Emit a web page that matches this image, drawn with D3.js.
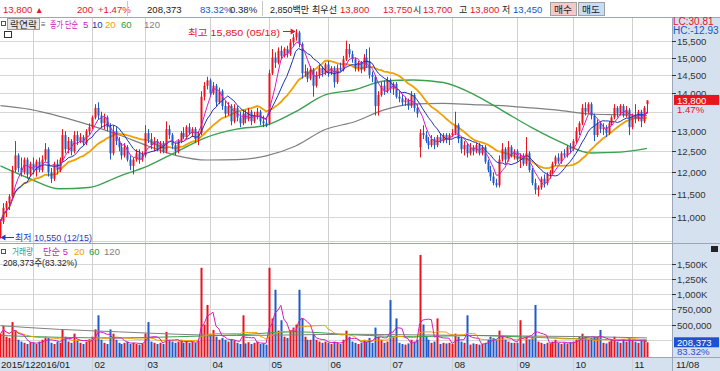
<!DOCTYPE html>
<html><head><meta charset="utf-8">
<script src="https://cdn.jsdelivr.net/npm/d3@7"></script>
<style>body{margin:0;background:#fff;}svg{display:block;}</style>
</head><body><svg id="c" width="720" height="371"></svg>
<script>
const opens=[10600,10900,11200,11300,11450,12050,12400,12100,12000,12300,11950,
12200,12050,12250,12050,12300,12550,12000,11850,12200,12050,12300,12900,12550,12750,12500,12900,12750,12850,12700,13000,
13100,13350,13600,13400,13200,13350,13100,12450,13000,12750,12600,12400,12600,12300,12150,12300,12450,12300,
12400,12950,12800,12650,12750,12550,12700,12500,13050,12900,12650,12500,12750,12950,12850,13100,12950,13050,12800,12950,13900,14200,
14350,14000,14200,13750,14050,13650,13450,13650,13250,13600,13350,13200,13450,13300,13500,13250,13400,13500,13250,13200,
13200,14550,15000,14850,15200,15050,15250,15100,15450,15600,15750,15400,14550,14600,14400,14650,14200,14500,14700,14550,
14800,14550,14700,14300,14700,14650,14950,15250,15100,14950,14700,14850,14650,15000,14900,14500,14450,13650,13950,14200,14050,
14350,14100,14250,13900,13850,13750,13800,13650,13950,13600,12600,12950,12900,12750,12650,12800,12650,12850,12750,12900,12800,
12900,12950,13150,12800,12550,12650,12450,12600,12500,12650,12450,12600,12250,12050,11900,11750,11700,12300,12550,12300,12600,12400,
12500,12300,12400,12200,12450,12050,11750,11600,11650,11850,11750,11950,12000,12200,12350,12250,12450,12400,12600,
12550,12750,13000,13200,13600,13500,13700,13400,12900,13200,13050,13100,12950,13200,13350,13600,13450,13650,13400,13550,
13100,13400,13300,13500,13250,13700];
const highs=[10950,11300,11350,11500,12150,12750,12450,12350,12350,12350,12250,
12350,12300,12350,12400,12700,12600,12100,12250,12300,12350,13050,13000,12850,12800,13000,13000,12950,12900,13050,13200,
13400,13700,13750,13500,13450,13400,13200,13150,13100,12850,12700,12700,12650,12400,12350,12550,12550,12500,
13150,13050,12950,12850,12800,12750,12750,13250,13150,12950,12700,12800,13000,13100,13150,13200,13100,13100,13000,14050,14300,14450,
14400,14300,14250,14150,14100,13800,13750,13700,13700,13650,13500,13550,13550,13600,13550,13500,13600,13550,13400,13350,
14650,15250,15150,15300,15350,15300,15350,15550,15700,15850,15800,15450,14800,14700,14750,14700,14600,14800,14750,14850,
14900,14750,14750,14800,14850,15050,15500,15400,15200,15000,14900,14900,15100,15250,15300,14600,14500,14050,14300,14350,14450,
14400,14300,14300,14050,13950,13900,13850,14050,14000,13700,13050,13150,13000,12850,12900,12850,12900,12950,12950,12950,12950,
13050,13500,13200,12850,12750,12700,12700,12650,12700,12700,12650,12650,12300,12150,12000,11850,12400,12700,12600,12750,12650,12550,
12550,12450,12450,12850,12500,12100,11850,11700,11900,11950,12000,12050,12250,12400,12450,12500,12550,12650,12700,
12800,13100,13250,13700,13750,13750,13750,13450,13300,13250,13200,13150,13250,13400,13700,13650,13700,13700,13650,13600,
13450,13700,13550,13550,13650,13800];
const lows=[10550,10850,11000,11150,11400,12000,12000,11900,11950,11850,11900,
11950,11900,12000,12000,12250,11900,11750,11800,11950,12000,12250,12450,12450,12400,12450,12650,12700,12650,12650,12900,
13050,13300,13300,13100,13050,13000,12300,12400,12650,12500,12300,12350,12250,12050,11950,12250,12200,12250,
12350,12700,12550,12500,12500,12450,12450,12450,12800,12550,12400,12450,12700,12800,12800,12900,12850,12700,12650,12900,13800,14100,
13900,13950,13650,13700,13550,13350,13400,13150,13200,13250,13100,13150,13200,13250,13150,13200,13300,13150,13100,13100,
13150,14500,14700,14800,14950,15000,15000,15050,15350,15500,15300,14400,14450,14300,14350,13900,14150,14400,14450,14500,
14450,14500,14150,14250,14600,14600,14900,15000,14850,14600,14600,14550,14600,14700,14400,14300,13400,13400,13900,13950,14000,
14000,13950,13850,13750,13650,13650,13550,13600,13500,13350,12350,12800,12700,12550,12600,12550,12600,12700,12700,12700,12650,
12850,12900,12700,12450,12400,12350,12400,12400,12450,12400,12400,12200,12000,11800,11700,11650,11650,12250,12200,12250,12350,12300,
12250,12100,12150,12150,12000,11700,11500,11450,11600,11650,11700,11850,11950,12150,12200,12200,12350,12350,12450,
12500,12700,12900,13150,13400,13450,13300,12750,12850,12950,12900,12850,12900,13150,13300,13350,13400,13350,13350,12900,
13050,13200,13250,13100,13200,13450];
const closes=[10900,11200,11300,11450,12050,12400,12100,12000,12300,11950,12200,
12050,12250,12050,12300,12550,12000,11850,12200,12050,12300,12900,12550,12750,12500,12900,12750,12850,12700,13000,13100,
13350,13600,13400,13200,13350,13100,12450,13000,12750,12600,12400,12600,12300,12150,12300,12450,12300,12400,
12950,12800,12650,12750,12550,12700,12500,13050,12900,12650,12500,12750,12950,12850,13100,12950,13050,12800,12950,13900,14200,14350,
14000,14200,13750,14050,13650,13450,13650,13250,13600,13350,13200,13450,13300,13500,13250,13400,13500,13250,13200,13150,
14550,15000,14850,15200,15050,15250,15100,15450,15600,15750,15400,14550,14600,14400,14650,14200,14500,14700,14550,14800,
14550,14700,14300,14700,14650,14950,15250,15100,14950,14700,14850,14650,15000,14800,14500,14450,13650,13950,14200,14050,14350,
14100,14250,13900,13850,13750,13800,13650,13950,13600,13450,12950,12900,12750,12650,12800,12650,12850,12750,12900,12800,12900,
12950,13150,12800,12550,12650,12450,12600,12500,12650,12450,12600,12250,12050,11900,11750,11700,12300,12550,12300,12600,12400,12500,
12300,12400,12200,12450,12050,11750,11600,11650,11850,11750,11950,12000,12200,12350,12250,12450,12400,12600,12550,
12750,13000,13200,13600,13500,13700,13400,12900,13200,13050,13100,12950,13200,13350,13600,13450,13650,13400,13550,13100,
13400,13300,13500,13250,13600,13800];
const volumes=[350000,480000,300000,280000,540000,410000,250000,220000,200000,180000,210000,
200000,180000,220000,250000,300000,280000,200000,180000,220000,200000,420000,300000,220000,200000,350000,250000,200000,180000,220000,260000,
300000,420000,650000,250000,200000,180000,420000,350000,250000,200000,180000,200000,220000,180000,200000,180000,170000,190000,
350000,540000,220000,200000,180000,200000,180000,380000,250000,220000,200000,220000,250000,200000,230000,200000,220000,200000,230000,1430000,500000,820000,
350000,410000,300000,250000,280000,250000,220000,260000,240000,200000,180000,650000,190000,210000,180000,200000,220000,180000,190000,170000,
1430000,600000,1070000,400000,570000,300000,280000,400000,450000,500000,1070000,600000,300000,250000,250000,350000,250000,220000,200000,220000,
200000,180000,220000,200000,180000,250000,400000,300000,220000,200000,180000,200000,250000,220000,280000,200000,450000,300000,250000,200000,220000,
900000,300000,600000,200000,180000,170000,190000,250000,220000,250000,1640000,500000,300000,250000,200000,220000,600000,180000,200000,190000,200000,
180000,350000,300000,220000,200000,650000,170000,190000,180000,170000,180000,200000,250000,300000,280000,250000,400000,300000,250000,220000,200000,200000,
200000,570000,190000,300000,250000,300000,820000,220000,200000,180000,200000,190000,220000,250000,200000,180000,200000,190000,210000,
220000,250000,300000,350000,300000,250000,280000,300000,300000,410000,200000,190000,220000,250000,300000,220000,200000,250000,220000,280000,
250000,220000,200000,230000,260000,208373];
// moving averages 60/120 at sample days
const maSampleIdx=[0,10,20,30,40,50,60,70,80,90,100,110,120,130,140,150,160,170,180,190,200,210,219];
const ma60Vals=[12150,11850,11620,11650,11900,12150,12500,12850,13050,13150,13500,13950,14090,14330,14360,14290,13980,13530,13090,12720,12460,12480,12570];
const ma120Vals=[13660,13560,13380,13160,12910,12630,12390,12290,12300,12390,12630,13040,13240,13550,13710,13720,13690,13660,13600,13530,13440,13420,13400];
const volMaIdx=[0,20,40,60,80,100,120,140,160,180,200,219];
const volMa60Vals=[320000,290000,280000,300000,330000,380000,330000,300000,320000,290000,260000,240000];
const volMa120Vals=[480000,420000,380000,340000,320000,330000,340000,330000,320000,310000,300000,280000];
const priceTicks=[11000,11500,12000,12500,13000,13500,14000,14500,15000,15500];
const priceGrid=[10500,11000,11500,12000,12500,13000,13500,14000,14500,15000,15500];
const volTicks=[500000,750000,1000000,1250000,1500000];
const volTickLabels=["500,000","750,000","1,000K","1,250K","1,500K"];
const monthStarts=[11,31,49,71,91,111,132,153,175,194,214];
const monthLabels=["2016/01","02","03","04","05","06","07","08","09","10","11"];

const ctx=document.createElement("canvas").getContext("2d");
function hasFont(f){ctx.font="20px monospace";const a=ctx.measureText("15,500abcWM").width;ctx.font=`20px '${f}', monospace`;return ctx.measureText("15,500abcWM").width!==a;}
const NARROW=hasFont("Liberation Sans Narrow");
const FF=(NARROW?"'Liberation Sans Narrow',":"")+"'Liberation Sans','Noto Sans CJK KR',sans-serif";
const FS=NARROW?11:9.6;

const RED="#E8141E",BLUE="#1E5AC8";
const svg=d3.select("#c").attr("font-family",FF);
const PR=672;
const x=d3.scaleBand().domain(d3.range(228)).range([-1,PR]);
const cx=i=>x(i)+x.bandwidth()/2;
const yP=d3.scaleLog().domain([11000,15500]).range([217,40.7]);
const yV=d3.scaleLinear().domain([0,1500000]).range([355,263.5]);
const fmt=d3.format(",");

svg.append("rect").attr("x",0).attr("y",0).attr("width",720).attr("height",371).attr("fill","#fff");
svg.append("rect").attr("x",PR).attr("y",18).attr("width",720-PR).attr("height",353).attr("fill","#D5E1EF");
svg.append("rect").attr("x",0).attr("y",357).attr("width",720).attr("height",14).attr("fill","#D5E1EF");

const g=svg.append("g");
priceGrid.forEach(t=>g.append("line").attr("x1",0).attr("x2",PR).attr("y1",Math.round(yP(t))+0.5).attr("y2",Math.round(yP(t))+0.5).attr("stroke","#D6D6D6"));
[250000,500000,750000,1000000,1250000,1500000].forEach(t=>g.append("line").attr("x1",0).attr("x2",PR).attr("y1",Math.round(yV(t))+0.5).attr("y2",Math.round(yV(t))+0.5).attr("stroke","#D6D6D6"));
monthStarts.forEach(i=>g.append("line").attr("x1",Math.round(cx(i))+0.5).attr("x2",Math.round(cx(i))+0.5).attr("y1",18).attr("y2",371).attr("stroke","#D0D0D0"));

svg.append("line").attr("x1",0).attr("x2",720).attr("y1",17.5).attr("y2",17.5).attr("stroke","#9AA7B8");
svg.append("line").attr("x1",0).attr("x2",720).attr("y1",243.5).attr("y2",243.5).attr("stroke","#9AA7B8");
svg.append("line").attr("x1",0).attr("x2",720).attr("y1",357.5).attr("y2",357.5).attr("stroke","#9AA7B8");
svg.append("line").attr("x1",PR+0.5).attr("x2",PR+0.5).attr("y1",18).attr("y2",371).attr("stroke","#9AA7B8");

svg.append("clipPath").attr("id","cp").append("rect").attr("x",0).attr("y",18).attr("width",PR).attr("height",225);
svg.append("clipPath").attr("id","cv").append("rect").attr("x",0).attr("y",244).attr("width",PR).attr("height",113);

const idx=d3.range(closes.length);
const sma=(arr,n)=>arr.map((_,i)=>d3.mean(arr.slice(Math.max(0,i-n+1),i+1)));

const pg=svg.append("g").attr("clip-path","url(#cp)");
const lineP=d3.line().x(d=>cx(d[0])).y(d=>yP(d[1]));
const lineS=d3.line().x(d=>cx(d[0])).y(d=>yP(d[1])).curve(d3.curveMonotoneX);
pg.append("path").attr("d",lineS(maSampleIdx.map((i,k)=>[i,ma120Vals[k]]))).attr("fill","none").attr("stroke","#808080").attr("stroke-width",1.2);
pg.append("path").attr("d",lineS(maSampleIdx.map((i,k)=>[i,ma60Vals[k]]))).attr("fill","none").attr("stroke","#3CA050").attr("stroke-width",1.4);
pg.append("path").attr("d",lineP(sma(closes,20).map((v,i)=>[i,v]))).attr("fill","none").attr("stroke","#F0A000").attr("stroke-width",1.8);

const cg=pg.append("g");
idx.forEach(i=>{
  const up=closes[i]>=opens[i];
  const col=up?RED:BLUE;
  const xc=Math.round(cx(i));
  cg.append("line").attr("x1",xc+0.5).attr("x2",xc+0.5).attr("y1",yP(highs[i])).attr("y2",yP(lows[i])).attr("stroke",col).attr("stroke-width",1);
  const y1=yP(Math.max(opens[i],closes[i])),y2=yP(Math.min(opens[i],closes[i]));
  cg.append("rect").attr("x",xc-0.5).attr("y",y1).attr("width",2).attr("height",Math.max(1,y2-y1)).attr("fill",col);
});
pg.append("path").attr("d",lineP(sma(closes,10).map((v,i)=>[i,v]))).attr("fill","none").attr("stroke","#1E32B4").attr("stroke-width",1);
pg.append("path").attr("d",lineP(sma(closes,5).map((v,i)=>[i,v]))).attr("fill","none").attr("stroke","#D21EBE").attr("stroke-width",1);

const vg=svg.append("g").attr("clip-path","url(#cv)");
idx.forEach(i=>{
  const col=closes[i]>=opens[i]?RED:BLUE;
  const xc=Math.round(cx(i));
  vg.append("rect").attr("x",xc-0.5).attr("y",yV(volumes[i])).attr("width",2).attr("height",yV(0)-yV(volumes[i])+2).attr("fill",col);
});
const lineV=d3.line().x(d=>cx(d[0])).y(d=>yV(d[1]));
const lineVS=d3.line().x(d=>cx(d[0])).y(d=>yV(d[1])).curve(d3.curveMonotoneX);
vg.append("path").attr("d",lineVS(volMaIdx.map((i,k)=>[i,volMa120Vals[k]]))).attr("fill","none").attr("stroke","#808080");
vg.append("path").attr("d",lineVS(volMaIdx.map((i,k)=>[i,volMa60Vals[k]]))).attr("fill","none").attr("stroke","#3CA050");
vg.append("path").attr("d",lineV(sma(volumes,20).map((v,i)=>[i,v]))).attr("fill","none").attr("stroke","#F0A000");
vg.append("path").attr("d",lineV(sma(volumes,5).map((v,i)=>[i,v]))).attr("fill","none").attr("stroke","#D21EBE");

const T=(xx,yy,txt,col,size,anchor,len)=>{const t=svg.append("text").attr("x",xx).attr("y",yy).attr("fill",col||"#222").attr("font-size",size||FS).attr("text-anchor",anchor||"start").text(txt);if(len)t.attr("textLength",len).attr("lengthAdjust","spacingAndGlyphs");return t;};
priceTicks.forEach(t=>{
  if(t===13500) return;
  const yy=yP(t);
  svg.append("line").attr("x1",PR).attr("x2",PR+4).attr("y1",Math.round(yy)+0.5).attr("y2",Math.round(yy)+0.5).attr("stroke","#333");
  T(PR+5,yy+4,fmt(t),"#333");
});
volTicks.forEach((t,k)=>{
  const yy=yV(t);
  svg.append("line").attr("x1",PR).attr("x2",PR+4).attr("y1",Math.round(yy)+0.5).attr("y2",Math.round(yy)+0.5).attr("stroke","#333");
  T(PR+5,yy+4,volTickLabels[k],"#333");
});
const lastC=closes[closes.length-1];
svg.append("rect").attr("x",PR+2).attr("y",yP(lastC)-5.5).attr("width",45).attr("height",10).attr("fill",RED);
T(PR+5,yP(lastC)+3.5,fmt(lastC),"#fff");
T(PR+5,yP(lastC)+13,"1.47%",RED);
T(PR+1,24.5,"LC:30.81",RED,10);
T(PR+1,33.5,"HC:-12.93","#1E50C8",10);
const lastV=volumes[volumes.length-1];
svg.append("rect").attr("x",PR+2).attr("y",yV(lastV)-5).attr("width",45).attr("height",10).attr("fill","#1E50D2");
T(PR+5,yV(lastV)+4,fmt(lastV),"#fff");
T(PR+5,yV(lastV)+13,"83.32%","#1E50D2");
svg.append("rect").attr("x",711).attr("y",246).attr("width",7).attr("height",6).attr("fill","#222");

T(1,368,"2015/12","#222");
monthStarts.forEach((i,k)=>{
  const xx=Math.round(cx(i))+0.5;
  T(xx+2,368,monthLabels[k],"#222");
});
T(PR+4,368,"11/08","#222");

const hiI=highs.indexOf(d3.max(highs)), loI=lows.indexOf(d3.min(lows));
T(188,36,"최고 "+fmt(highs[hiI])+" (05/18)",RED,FS,"start",92);
svg.append("line").attr("x1",283).attr("x2",cx(hiI)-1).attr("y1",31.5).attr("y2",31.5).attr("stroke",RED);
svg.append("path").attr("d",`M${cx(hiI)},31.5 l-5,-3 v6 z`).attr("fill",RED);
T(15,241,"최저 "+fmt(lows[loI])+" (12/15)","#1E40C0",FS,"start",77);
svg.append("line").attr("x1",cx(loI)+1).attr("x2",14).attr("y1",237.5).attr("y2",237.5).attr("stroke","#1E40C0");
svg.append("path").attr("d",`M${cx(loI)},237.5 l5,-3 v6 z`).attr("fill","#1E40C0");

svg.append("rect").attr("x",1.5).attr("y",21.5).attr("width",4).attr("height",4).attr("fill","none").attr("stroke","#555");
svg.append("rect").attr("x",7.5).attr("y",18.5).attr("width",32).attr("height",11).attr("fill","#E6E6E6").attr("stroke","#999");
T(10,27.5,"락연락","#222",9,"start",27);
T(41,27,"≡","#555",8);
T(50,28,"종가 단순","#C81EB4",9.5,"start",28);
T(83,28,"5","#C81EB4");
T(92,28,"10","#1E32B4");
T(105,28,"20","#F0A000");
T(121,28,"60","#2E9A40");
T(144,28,"120","#808080");
svg.append("rect").attr("x",4.5).attr("y",31.5).attr("width",7).attr("height",6).attr("fill","#fff").attr("stroke","#333");
svg.append("rect").attr("x",1.5).attr("y",249.5).attr("width",4).attr("height",4).attr("fill","none").attr("stroke","#555");
T(12,255,"거래량","#20A0A0",9.5,"start",21);
T(43,255,"단순 5","#C81EB4",9.5,"start",25);
T(74,255,"20","#F0A000");
T(89,255,"60","#2E9A40");
T(104,255,"120","#808080");
T(3,266,"208,373주(83.32%)","#222",FS,"start",74);

T(3,13,"13,800",RED);
T(35,13,"▲",RED,8.5);
T(77,13,"200",RED);
T(98,13,"+1.47%",RED);
svg.append("line").attr("x1",127.5).attr("x2",127.5).attr("y1",1).attr("y2",16).attr("stroke","#C8C8C8");
T(147,13,"208,373","#222");
T(200,13,"83.32%","#1E50C8");
T(230,13,"0.38%","#222");
svg.append("line").attr("x1",262.5).attr("x2",262.5).attr("y1",1).attr("y2",16).attr("stroke","#C8C8C8");
T(270,13,"2,850백만","#222",FS,"start",39);
T(312,13,"최우선","#222",9.5,"start",25);
T(340,13,"13,800",RED);
T(383,13,"13,750",RED);
T(413,13,"시","#222",9);
T(423,13,"13,700",RED);
T(459,13,"고","#222",9);
T(470,13,"13,800",RED);
T(502,13,"저","#222",9);
T(513,13,"13,450","#1E50C8");
svg.append("rect").attr("x",550.5).attr("y",2.5).attr("width",26).attr("height",13).attr("fill","#F5C9C9").attr("stroke","#A0A0A0");
T(554,13,"매수","#222",9.5,"start",18);
svg.append("rect").attr("x",578.5).attr("y",2.5).attr("width",26).attr("height",13).attr("fill","#C9DCF5").attr("stroke","#A0A0A0");
T(582,13,"매도","#222",9.5,"start",18);
</script></body></html>
